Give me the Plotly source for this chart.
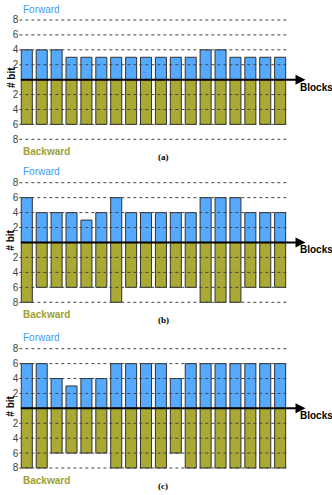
import plotly.graph_objects as go

blocks = list(range(18))
fwd_a = [4,4,4,3,3,3,3,3,3,3,3,3,4,4,3,3,3,3]
bwd_a = [6]*18
fwd_b = [6,4,4,4,3,4,6,4,4,4,4,4,6,6,6,4,4,4]
bwd_b = [8,6,6,6,6,6,8,6,6,6,6,6,8,8,8,6,6,6]
fwd_c = [6,6,4,3,4,4,6,6,6,6,4,6,6,6,6,6,6,6]
bwd_c = [8,8,6,6,6,6,8,8,8,8,6,8,8,8,8,8,8,8]
panels = [("(a)", fwd_a, bwd_a), ("(b)", fwd_b, bwd_b), ("(c)", fwd_c, bwd_c)]
grid_vals = [-8,-6,-4,-2,2,4,6,8]
tick_vals = [-8,-6,-4,-2,0,2,4,6,8]
tick_text = ["8","6","4","2","","2","4","6","8"]

W, H = 332, 495
blue = "#55AAFF"
olive = "#A9A933"
# pixel positions of the +8 / -8 lines in each panel
tops = [20, 182.7, 348.7]
bots = [139.3, 302.3, 468]
pad = 0.4
x_dom = [19.35/W, 287.6/W]

fig = go.Figure()
layout = dict(width=W, height=H, margin=dict(l=0, r=0, t=0, b=0, autoexpand=False),
              plot_bgcolor="white", paper_bgcolor="white",
              barmode="relative", bargap=0.26, showlegend=False,
              font=dict(family="Arial, Liberation Sans", size=10, color="#333"))
annotations = []
shapes = []
for i, (lab, fw, bw) in enumerate(panels):
    n = "" if i == 0 else str(i+1)
    xa, ya = "x"+n, "y"+n
    fig.add_trace(go.Bar(x=blocks, y=fw, marker=dict(color=blue, line=dict(color="#333", width=1)),
                         xaxis=xa, yaxis=ya))
    fig.add_trace(go.Bar(x=blocks, y=[-v for v in bw], marker=dict(color=olive, line=dict(color="#333", width=1)),
                         xaxis=xa, yaxis=ya))
    ppu = (bots[i]-tops[i])/16
    dom = [1-(bots[i]+pad*ppu)/H, 1-(tops[i]-pad*ppu)/H]
    layout["xaxis"+n] = dict(domain=x_dom, range=[-0.5, 17.5], visible=False, anchor=ya, automargin=False)
    layout["yaxis"+n] = dict(domain=dom, range=[-8-pad, 8+pad], anchor=xa, tickvals=tick_vals, ticktext=tick_text,
                             showgrid=False, zeroline=False, showline=False, ticks="", automargin=False,
                             tickfont=dict(size=10, color="#444"))
    for g in grid_vals:
        shapes.append(dict(type="line", xref=xa+" domain", yref=ya, x0=0, x1=1, y0=g, y1=g,
                           line=dict(color="#444", width=1, dash="dot"), layer="above"))
    # zero axis with arrow
    annotations.append(dict(xref=xa, yref=ya, axref=xa, ayref=ya, x=18.7, y=0, ax=-0.5, ay=0,
                            showarrow=True, arrowhead=2, arrowsize=1, arrowwidth=2, arrowcolor="black", text=""))
    txt = dict(showarrow=False, xref="paper", yref="paper", yanchor="middle")
    annotations.append(dict(txt, x=316/W, y=1-(tops[i]+67)/H, xanchor="center", text="<b>Blocks</b>",
                            font=dict(size=10, color="black")))
    annotations.append(dict(txt, x=11/W, y=1-(tops[i]+58)/H, xanchor="center", text="<b># bit</b>",
                            textangle=-90, font=dict(size=10, color="black")))
    annotations.append(dict(txt, x=21/W, y=1-(tops[i]-11)/H, xanchor="left",
                            text="Forward", font=dict(size=10, color="#3A9BF5")))
    annotations.append(dict(txt, x=21/W, y=1-(bots[i]+12)/H, xanchor="left",
                            text="<b>Backward</b>", font=dict(size=10, color="#A0A030")))
    annotations.append(dict(txt, x=163/W, y=1-(bots[i]+18)/H, xanchor="center",
                            text="<b>"+lab+"</b>",
                            font=dict(size=9, color="black", family="Liberation Serif, Times New Roman")))

layout["annotations"] = annotations
layout["shapes"] = shapes
fig.update_layout(**layout)
fig.write_html("out.html", config={"displayModeBar": False},
               post_script="document.body.style.margin='0';")
